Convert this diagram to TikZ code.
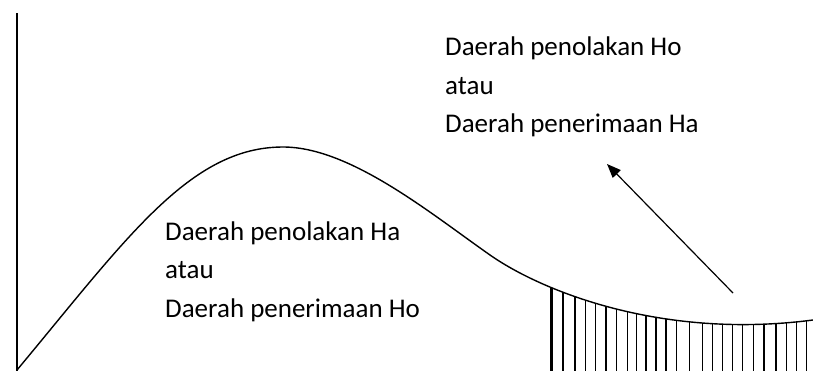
\documentclass[tikz,border=0pt]{standalone}
\usepackage{fontspec}
\setmainfont{Carlito}
\usetikzlibrary{arrows.meta}
\begin{document}
\begin{tikzpicture}[x=1pt,y=-1pt,
  lbl/.style={anchor=base west,align=left,font=\fontsize{27}{38.5}\selectfont,inner sep=0pt},
  curvestyle/.style={line width=1.4pt},
  hatch/.style={line width=1.4pt},
  thickhatch/.style={line width=3pt}]
\useasboundingbox (0,0) rectangle (813,381);
\def\curvepath{(17,370) .. controls (127,238) and (190,147) .. (283,147)
  .. controls (350,147) and (430,213) .. (490,255)
  .. controls (540,290) and (660,340) .. (813,320)}
% axis
\coordinate (axtop) at (17,13);
\coordinate (axbot) at (17,371);
\draw[line width=1.2pt] (axtop) -- (axbot);
% hatching clipped under curve
\begin{scope}
  \clip \curvepath -- (813,371) -- (17,371) -- cycle;
  \foreach \x in {563,575,585.5,595.7,606,616.7,627.3,636.7,646,656,666,676.7,689.3,702.3,712.3,722.3,732.7,742.7,753.3,764,776,786.7,796.7,806.7}
    \draw[hatch] (\x,250) -- (\x,371);
  \draw[thickhatch] (551,250) -- (551,371);
\end{scope}
% curve
\draw[curvestyle] \curvepath;
% labels
\node[lbl] (acc) at (165,317) {Daerah penolakan Ha\\atau\\Daerah penerimaan Ho};
\node[lbl] (rej) at (445,132.5) {Daerah penolakan Ho\\atau\\Daerah penerimaan Ha};
% arrow
\coordinate (astart) at (733,293);
\coordinate (aend) at (607,164);
\draw[line width=1.2pt,-{Triangle[length=14pt,width=11pt]}] (astart) -- (aend);
\end{tikzpicture}
\end{document}
